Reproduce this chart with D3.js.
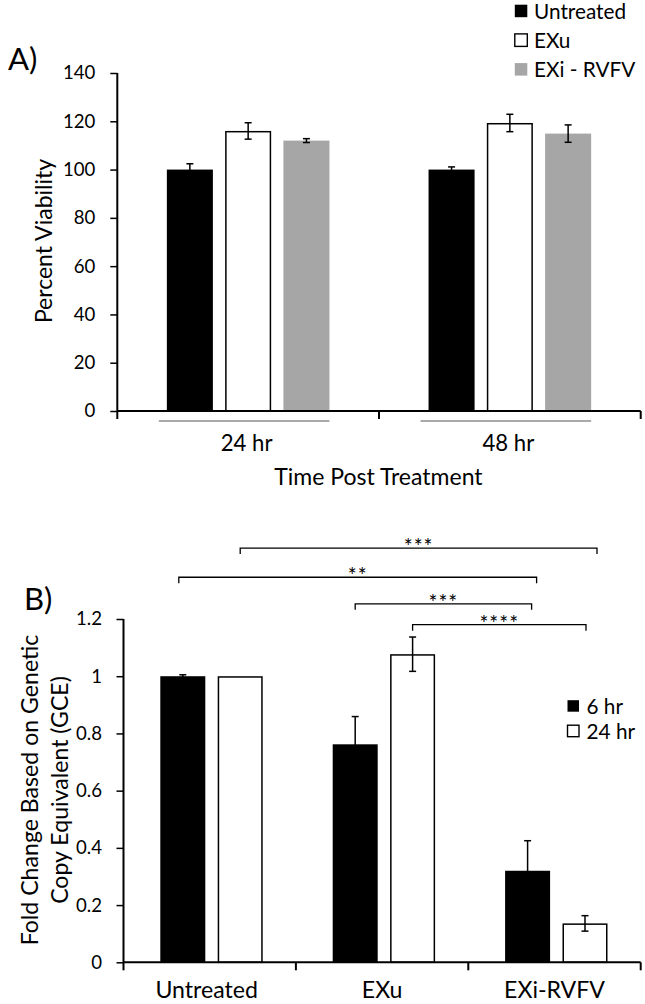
<!DOCTYPE html>
<html><head><meta charset="utf-8">
<script src="https://cdn.jsdelivr.net/npm/d3@7"></script>
<style>
body{margin:0;background:#fff}
svg{display:block}
text{font-family:Lato,"Open Sans",sans-serif;fill:#000}
</style></head>
<body>
<svg id="c" width="645" height="1004"></svg>
<script>
// ---------- Panel A data ----------
const timesA = ["24 hr", "48 hr"];
const seriesA = ["Untreated", "EXu", "EXi - RVFV"];
const colorsA = ["#000000", "#ffffff", "#a6a6a6"];
const valuesA = [[100, 116, 112], [100, 119.3, 114.9]];
const errorsA = [[2.4, 3.4, 0.8], [1.1, 3.6, 3.6]];
const ticksA = [0, 20, 40, 60, 80, 100, 120, 140];

// ---------- Panel B data ----------
const groupsB = ["Untreated", "EXu", "EXi-RVFV"];
const seriesB = ["6 hr", "24 hr"];
const colorsB = ["#000000", "#ffffff"];
const valuesB = [[1.0, 1.0], [0.762, 1.077], [0.32, 0.136]];
const errorsB = [[0.005, 0.0], [0.097, 0.06], [0.105, 0.027]];
const ticksB = [0, 0.2, 0.4, 0.6, 0.8, 1, 1.2];
const tickLabelsB = ["0", "0.2", "0.4", "0.6", "0.8", "1", "1.2"];
// significance brackets: [groupIndex, seriesIndex] -> [groupIndex, seriesIndex], level in data units
const bracketFrom = [[0, 1], [0, 0], [1, 0], [1, 1]];
const bracketTo = [[2, 1], [2, 0], [2, 0], [2, 1]];
const bracketLevel = [1.448, 1.346, 1.253, 1.18];
const bracketLabel = ["***", "**", "***", "****"];

const svg = d3.select("#c");

// font calibration: the original uses a Calibri-like face; scale Lato to similar widths
function measure(str, size) {
  const t = svg.append("text").attr("font-size", size).text(str);
  const w = t.node().getComputedTextLength();
  t.remove();
  return w;
}
const fText = measure("Untreated", 100) / 418.6;   // Calibri: 4.186 em
const fDigit = measure("0123456789", 100) / 507;    // Calibri: 0.507 em per digit
const fsT = s => s / fText;
const fsD = s => s / fDigit;

// ================= Panel A =================
(function(){
  const left = 117.3, right = 640.7, top = 73, bottom = 411;
  const y = d3.scaleLinear().domain([0, 140]).range([bottom, top]);
  const x0 = d3.scaleBand().domain(timesA).range([left, right]);
  const half = 81.3;
  const x1 = d3.scaleBand().domain(seriesA).range([x0.bandwidth()/2 - half, x0.bandwidth()/2 + half]).paddingInner(0.21);
  const g = svg.append("g");

  timesA.forEach((t, i) => {
    seriesA.forEach((s, j) => {
      const bx = x0(t) + x1(s);
      const v = valuesA[i][j];
      g.append("rect")
        .attr("x", bx + (j===1?0.75:0)).attr("y", y(v) + (j===1?0.75:0))
        .attr("width", x1.bandwidth() - (j===1?1.5:0)).attr("height", y(0) - y(v) - (j===1?0.75:0))
        .attr("fill", colorsA[j])
        .attr("stroke", j===1 ? "#000" : "none").attr("stroke-width", 1.5);
      const e = errorsA[i][j], cx = bx + x1.bandwidth()/2;
      g.append("line").attr("x1", cx).attr("x2", cx).attr("y1", y(v+e)).attr("y2", y(v-e)).attr("stroke", "#000").attr("stroke-width", 1.5);
      [v+e, v-e].forEach(w => g.append("line").attr("x1", cx-3.5).attr("x2", cx+3.5).attr("y1", y(w)).attr("y2", y(w)).attr("stroke", "#000").attr("stroke-width", 1.5));
    });
    // group underline
    g.append("line").attr("x1", x0(t) + x1(seriesA[0]) - 8).attr("x2", x0(t) + x1(seriesA[2]) + x1.bandwidth())
      .attr("y1", 421).attr("y2", 421).attr("stroke", "#555").attr("stroke-width", 1);
    g.append("text").attr("x", x0(t) + x0.bandwidth()/2 - 1.5).attr("y", 451).attr("text-anchor", "middle").attr("font-size", fsT(23.5)).text(t);
  });

  const ya = d3.axisLeft(y).tickValues(ticksA).tickSize(7).tickFormat(d3.format("d"));
  const yg = g.append("g").attr("transform", `translate(${left},0)`).call(ya);
  yg.select(".domain").attr("stroke-width", 2).attr("d", `M0,${bottom}V${top}`);
  yg.selectAll(".tick line").attr("stroke-width", 1.5);
  yg.selectAll(".tick text").attr("font-size", fsD(21.3)).attr("font-family", "Lato").attr("x", -22).attr("fill", "#000");

  const xg = g.append("g").attr("transform", `translate(0,${bottom})`).call(d3.axisBottom(x0).tickSize(0).tickFormat(""));
  xg.select(".domain").attr("stroke-width", 2).attr("d", `M${left},0H${right}`);
  [left, left + x0.step(), right].forEach(px => g.append("line").attr("x1", px).attr("x2", px).attr("y1", bottom).attr("y2", bottom+8).attr("stroke", "#000").attr("stroke-width", 2));

  g.append("text").attr("x", (left+right)/2 - 0.6).attr("y", 485).attr("text-anchor", "middle").attr("font-size", fsT(24.4)).text("Time Post Treatment");
  g.append("text").attr("transform", `translate(52,241) rotate(-90)`).attr("text-anchor", "middle").attr("font-size", fsT(24.4)).text("Percent Viability");
  g.append("text").attr("x", 8).attr("y", 70).attr("font-size", fsT(33)).text("A)");

  // legend
  seriesA.forEach((s, j) => {
    const ly = 11 + j*29.2;
    g.append("rect").attr("x", 514.8).attr("y", ly - 6.3).attr("width", 12.5).attr("height", 12.5)
      .attr("fill", colorsA[j]).attr("stroke", j===1 ? "#000" : "none").attr("stroke-width", 1.4);
    g.append("text").attr("x", 534).attr("y", ly + 7.5).attr("font-size", fsT(22)).text(s);
  });
})();

// ================= Panel B =================
(function(){
  const left = 123.5, right = 640.7, top = 619, bottom = 962.3;
  const y = d3.scaleLinear().domain([0, 1.2]).range([bottom, top]);
  const x0 = d3.scaleBand().domain(groupsB).range([left, right]);
  const half = 51.2, shift = 1.8;
  const x1 = d3.scaleBand().domain(seriesB).range([x0.bandwidth()/2 - half + shift, x0.bandwidth()/2 + half + shift]).paddingInner(0.216);
  const g = svg.append("g");
  const cxOf = (gi, si) => x0(groupsB[gi]) + x1(seriesB[si]) + x1.bandwidth()/2;

  groupsB.forEach((t, i) => {
    seriesB.forEach((s, j) => {
      const bx = x0(t) + x1(s);
      const v = valuesB[i][j];
      g.append("rect")
        .attr("x", bx + (j===1?0.75:0)).attr("y", y(v) + (j===1?0.75:0))
        .attr("width", x1.bandwidth() - (j===1?1.5:0)).attr("height", y(0) - y(v) - (j===1?0.75:0))
        .attr("fill", colorsB[j]).attr("stroke", j===1 ? "#000" : "none").attr("stroke-width", 1.5);
      const e = errorsB[i][j], cx = bx + x1.bandwidth()/2;
      if (e > 0) {
        g.append("line").attr("x1", cx).attr("x2", cx).attr("y1", y(v+e)).attr("y2", y(v-e)).attr("stroke", "#000").attr("stroke-width", 1.5);
        [v+e, v-e].forEach(w => g.append("line").attr("x1", cx-3.5).attr("x2", cx+3.5).attr("y1", y(w)).attr("y2", y(w)).attr("stroke", "#000").attr("stroke-width", 1.5));
      }
    });
    g.append("text").attr("x", x0(t) + x0.bandwidth()/2 - (i===0?3:0)).attr("y", 997.5).attr("text-anchor", "middle").attr("font-size", fsT(24.5)).text(t);
  });

  const ya = d3.axisLeft(y).tickValues(ticksB).tickSize(7).tickFormat((d,i) => tickLabelsB[i]);
  const yg = g.append("g").attr("transform", `translate(${left},0)`).call(ya);
  yg.select(".domain").attr("stroke-width", 2).attr("d", `M0,${bottom}V${top}`);
  yg.selectAll(".tick line").attr("stroke-width", 1.5);
  yg.selectAll(".tick text").attr("font-size", fsD(21.3)).attr("font-family", "Lato").attr("x", -21.5).attr("fill", "#000");

  const xg = g.append("g").attr("transform", `translate(0,${bottom})`).call(d3.axisBottom(x0).tickSize(0).tickFormat(""));
  xg.select(".domain").attr("stroke-width", 2).attr("d", `M${left},0H${right}`);
  d3.range(groupsB.length + 1).forEach(k => {
    const px = left + k * x0.step();
    g.append("line").attr("x1", px).attr("x2", px).attr("y1", bottom).attr("y2", bottom+8).attr("stroke", "#000").attr("stroke-width", 2);
  });

  // significance brackets (right ends reach slightly past the bar centre, as in the original)
  bracketLabel.forEach((lab, k) => {
    const xa = cxOf(bracketFrom[k][0], bracketFrom[k][1]) - (k===1?4:0);
    const xb = cxOf(bracketTo[k][0], bracketTo[k][1]) + (k===0?12:k===1?9:k===2?4:1);
    const yy = y(bracketLevel[k]);
    g.append("path").attr("d", `M${xa},${yy+6}V${yy}H${xb}V${yy+6}`).attr("fill", "none").attr("stroke", "#000").attr("stroke-width", 1.3);
    g.append("text").attr("x", (xa+xb)/2).attr("y", yy + 6).attr("text-anchor", "middle")
      .attr("font-size", 21).attr("letter-spacing", 1).attr("fill", "#444").text(lab);
  });

  const yt = g.append("text").attr("transform", `translate(0,790) rotate(-90)`).attr("text-anchor", "middle").attr("font-size", fsT(24.5));
  yt.append("tspan").attr("x", 0).attr("y", 38).text("Fold Change Based on Genetic");
  yt.append("tspan").attr("x", 0).attr("y", 68).text("Copy Equivalent (GCE)");
  g.append("text").attr("x", 24).attr("y", 610).attr("font-size", fsT(33)).text("B)");

  seriesB.forEach((s, j) => {
    const ly = 706 + j*25;
    g.append("rect").attr("x", 567.5).attr("y", ly - 5.8).attr("width", 11.5).attr("height", 11.5)
      .attr("fill", colorsB[j]).attr("stroke", j===1 ? "#000" : "none").attr("stroke-width", 1.4);
    g.append("text").attr("x", 586.5).attr("y", ly + 7.5).attr("font-size", fsT(22)).text(s);
  });
})();
</script>
</body></html>
